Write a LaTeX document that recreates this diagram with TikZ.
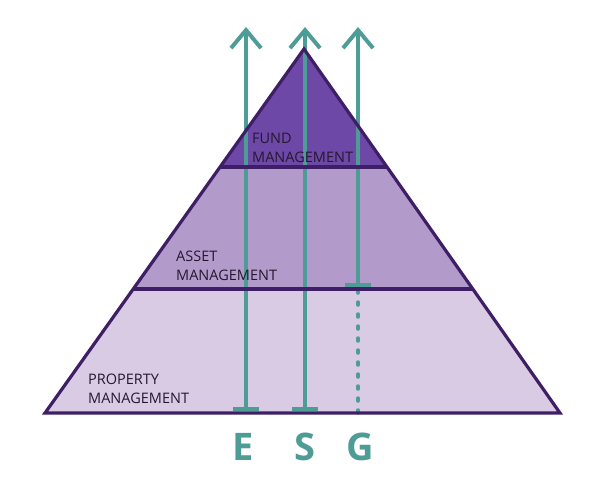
\documentclass[tikz,border=0pt]{standalone}
\usepackage{fontspec}
\setmainfont{Open Sans}
\usetikzlibrary{arrows.meta,calc}
\definecolor{tierA}{HTML}{6E48A6}
\definecolor{tierB}{HTML}{B29BCB}
\definecolor{tierC}{HTML}{D9CBE4}
\definecolor{outl}{HTML}{3E1F66}
\definecolor{teal}{HTML}{4E9C96}
\definecolor{labtxt}{HTML}{24182F}
\tikzset{
  outline/.style={draw=outl, line width=3.2pt, line join=miter},
  esgline/.style={draw=teal, line width=4pt},
  esgarrow/.style={esgline, -{Straight Barb[length=18pt,width=30pt,line width=4pt]}},
  tierlabel/.style={font=\fontsize{14.5}{19}\selectfont, text=labtxt, align=left, anchor=base west, inner sep=0pt},
  esgletter/.style={font=\fontsize{38}{40}\selectfont\bfseries, text=teal, anchor=base, inner sep=0pt}
}
\begin{document}
\begin{tikzpicture}[x=1pt,y=-1pt]
\useasboundingbox (0,0) rectangle (609,477);
% triangle geometry
\coordinate (A) at (304,49);
\coordinate (BL) at (45,413);
\coordinate (BR) at (560,413);
\coordinate (L1) at ($(A)!0.3242!(BL)$);
\coordinate (R1) at ($(A)!0.3242!(BR)$);
\coordinate (L2) at ($(A)!0.6593!(BL)$);
\coordinate (R2) at ($(A)!0.6593!(BR)$);
% fills
\fill[tierC] (L2) -- (R2) -- (BR) -- (BL) -- cycle;
\fill[tierB] (L1) -- (R1) -- (R2) -- (L2) -- cycle;
\fill[tierA] (A) -- (R1) -- (L1) -- cycle;
% ESG lines
\coordinate (Eb) at (246,409);
\coordinate (Et) at (246,27);
\coordinate (Ebl) at (233,409);
\coordinate (Ebr) at (259,409);
\coordinate (Sb) at (305,409);
\coordinate (St) at (305,27);
\coordinate (Sbl) at (292,409);
\coordinate (Sbr) at (318,409);
\coordinate (Gd) at (358,413);
\coordinate (Gb) at (358,285);
\coordinate (Gt) at (358,27);
\coordinate (Gbl) at (345,285);
\coordinate (Gbr) at (371,285);
\draw[esgarrow] (Eb) -- (Et);
\draw[esgline] (Ebl) -- (Ebr);
\draw[esgarrow] (Sb) -- (St);
\draw[esgline] (Sbl) -- (Sbr);
\draw[esgarrow] (Gb) -- (Gt);
\draw[esgline] (Gbl) -- (Gbr);
\draw[esgline, line width=3.5pt, line cap=round, dash pattern=on 3pt off 9pt] (Gd) -- (Gb);
% outlines
\draw[outline] (A) -- (BR) -- (BL) -- cycle;
\draw[outline] (L1) -- (R1);
\draw[outline] (L2) -- (R2);
% labels
\node[tierlabel] (fund) at (252,162) {FUND\\MANAGEMENT};
\node[tierlabel] (asset) at (176,280) {ASSET\\MANAGEMENT};
\node[tierlabel] (prop) at (88,403) {PROPERTY\\MANAGEMENT};
\node[esgletter] (E) at (243,460) {E};
\node[esgletter] (S) at (305,460) {S};
\node[esgletter] (G) at (360,460) {G};
\end{tikzpicture}
\end{document}
